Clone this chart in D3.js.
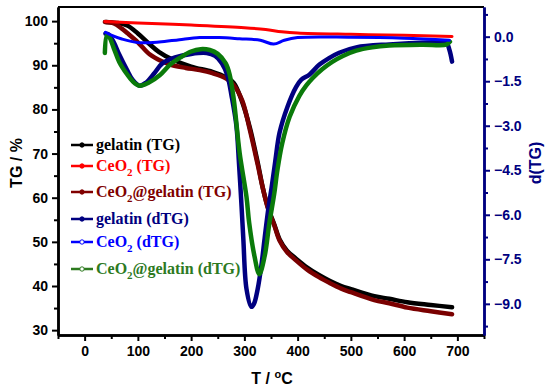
<!DOCTYPE html>
<html>
<head>
<meta charset="utf-8">
<script src="https://cdn.jsdelivr.net/npm/d3@7"></script>
<style>
  body { margin: 0; background: #fff; }
  svg { display: block; }
  .tick text { font-family: "Liberation Sans", Arial, sans-serif; font-weight: bold; font-size: 14px; }
</style>
</head>
<body>
<div class="mydiv"></div>
<script>
var width = 550;
var height = 389;

// series: [temperature, value]
var gelatinTG = [[40,99.8],[60,99.6],[80,99.0],[100,97.2],[120,95.0],[140,93.0],[165,91.3],[200,89.7],[240,88.5],[265,87.3],[280,86.0],[295,82.0],[310,76.0],[325,68.0],[335,62.0],[345,57.5],[356,54.0],[366,50.6],[380,48.0],[397,46.2],[418,44.2],[440,42.5],[460,41.2],[482,40.0],[500,39.3],[544,37.7],[572,37.1],[606,36.3],[650,35.7],[690,35.2]];
var ceo2TG = [[38,99.9],[100,99.6],[200,99.1],[300,98.5],[340,98.1],[370,97.6],[400,97.3],[500,97.0],[600,96.8],[690,96.5]];
var ceo2GelTG = [[38,99.8],[55,99.5],[70,98.3],[80,97.3],[100,95.2],[122,92.5],[145,90.9],[165,90.0],[190,89.4],[216,88.9],[240,88.2],[266,87.0],[280,85.5],[296,82.0],[310,75.5],[325,67.5],[335,62.0],[345,57.3],[356,53.8],[366,50.3],[380,47.7],[397,45.8],[418,43.7],[440,42.0],[460,40.7],[482,39.4],[500,38.6],[544,36.8],[572,36.1],[606,35.1],[650,34.3],[690,33.6]];
var gelatinDTG = [[39,0.1],[45,0.08],[55,-0.2],[65,-0.6],[79,-1.1],[90,-1.45],[103,-1.65],[115,-1.55],[130,-1.25],[146,-0.9],[170,-0.7],[200,-0.58],[229,-0.55],[245,-0.65],[258,-0.9],[268,-1.3],[276,-2.0],[285,-3.0],[290,-4.3],[294,-5.5],[298,-6.8],[304,-8.5],[313,-9.1],[318,-9.0],[325,-8.5],[332,-7.7],[338,-6.8],[345,-5.8],[351,-5.1],[358,-4.2],[366,-3.24],[381,-2.36],[397,-1.7],[407,-1.45],[422,-1.28],[441,-0.94],[459,-0.72],[478,-0.54],[510,-0.36],[572,-0.26],[647,-0.2],[679,-0.2],[685,-0.44],[690,-0.84]];
var ceo2DTG = [[39,0.15],[50,0.05],[70,-0.08],[100,-0.2],[140,-0.18],[178,-0.1],[216,-0.03],[253,-0.03],[291,-0.07],[330,-0.12],[355,-0.25],[375,-0.12],[400,-0.03],[500,-0.02],[600,-0.05],[685,-0.12]];
var ceo2GelDTG = [[38,-0.55],[42,0.05],[46,0.0],[55,-0.4],[65,-0.85],[79,-1.25],[90,-1.5],[103,-1.65],[120,-1.55],[141,-1.3],[160,-0.95],[180,-0.7],[200,-0.5],[218,-0.42],[235,-0.45],[250,-0.58],[265,-0.9],[272,-1.25],[280,-2.1],[291,-3.9],[304,-5.4],[309,-6.27],[319,-7.4],[328,-8.0],[338,-7.4],[347,-6.27],[356,-5.3],[362,-4.5],[371,-3.6],[385,-2.7],[403,-2.0],[416,-1.65],[428,-1.4],[446,-1.1],[465,-0.85],[485,-0.65],[510,-0.47],[540,-0.36],[572,-0.3],[634,-0.27],[679,-0.27],[686,-0.17]];

var xTicks = [0,100,200,300,400,500,600,700];
var yLeftTicks = [30,40,50,60,70,80,90,100];
var yRightTicks = [0,-1.5,-3.0,-4.5,-6.0,-7.5,-9.0];

var legendNames = ["gelatin (TG)", "CeO|2| (TG)", "CeO|2|@gelatin (TG)", "gelatin (dTG)", "CeO|2| (dTG)", "CeO|2|@gelatin (dTG)"];
var legendColors = ["#000000", "#ff0000", "#800000", "#000080", "#0000ff", "#2d7a1f"];

var margin = { left: 58, right: 484, top: 7, bottom: 335 };

var x = d3.scaleLinear().domain([-50, 750]).range([margin.left, margin.right]);
var yL = d3.scaleLinear().domain([28.9, 103.2]).range([margin.bottom, margin.top]);
var yR = d3.scaleLinear().domain([-10.05, 1.0]).range([margin.bottom, margin.top]);

var svg = d3.select(".mydiv")
	.append("svg")
	.attr("width", width)
	.attr("height", height);

svg.append("rect").attr("width", width).attr("height", height).attr("fill", "#fff");

var lineL = d3.line()
	.x(function(d) { return x(d[0]); })
	.y(function(d) { return yL(d[1]); })
	.curve(d3.curveCatmullRom.alpha(0.5));
var lineR = d3.line()
	.x(function(d) { return x(d[0]); })
	.y(function(d) { return yR(d[1]); })
	.curve(d3.curveCatmullRom.alpha(0.5));

// curves, drawing order matters for overlaps
var curves = [
	{ data: gelatinTG, line: lineL, color: "#000000", w: 4.5 },
	{ data: ceo2GelTG, line: lineL, color: "#7a0000", w: 4.5 },
	{ data: ceo2TG, line: lineL, color: "#ff0000", w: 3 },
	{ data: gelatinDTG, line: lineR, color: "#000080", w: 4.5 },
	{ data: ceo2GelDTG, line: lineR, color: "#0a7a0a", w: 4.5 },
	{ data: ceo2DTG, line: lineR, color: "#0000ff", w: 3 }
];
curves.forEach(function(c) {
	svg.append("path")
		.attr("d", c.line(c.data))
		.attr("fill", "none")
		.attr("stroke", c.color)
		.attr("stroke-width", c.w)
		.attr("stroke-linejoin", "round")
		.attr("stroke-linecap", "round");
});

// frame top
svg.append("line")
	.attr("x1", margin.left).attr("x2", margin.right)
	.attr("y1", margin.top).attr("y2", margin.top)
	.attr("stroke", "#000").attr("stroke-width", 2);

// bottom axis
svg.append("g").attr("transform", "translate(0," + margin.bottom + ")")
	.call(d3.axisBottom(x).tickValues(xTicks).tickSize(6).tickSizeOuter(0).tickPadding(5));
svg.append("g").attr("transform", "translate(0," + margin.bottom + ")")
	.call(d3.axisBottom(x).tickValues(d3.range(-50, 751, 100)).tickSize(4).tickSizeOuter(0).tickFormat(""));

// left axis
svg.append("g").attr("transform", "translate(" + margin.left + ",0)")
	.call(d3.axisLeft(yL).tickValues(yLeftTicks).tickSize(6).tickSizeOuter(0).tickPadding(4));
svg.append("g").attr("transform", "translate(" + margin.left + ",0)")
	.call(d3.axisLeft(yL).tickValues(d3.range(35, 100, 10)).tickSize(4).tickSizeOuter(0).tickFormat(""));

// right axis
var rAx = svg.append("g").attr("transform", "translate(" + margin.right + ",0)")
	.call(d3.axisRight(yR).tickValues(yRightTicks).tickSize(6).tickSizeOuter(0).tickPadding(4).tickFormat(d3.format(".1f")));
var rMinor = svg.append("g").attr("transform", "translate(" + margin.right + ",0)")
	.call(d3.axisRight(yR).tickValues([0.75,-0.75,-2.25,-3.75,-5.25,-6.75,-8.25,-9.75]).tickSize(4).tickSizeOuter(0).tickFormat(""));

svg.selectAll(".domain").attr("stroke-width", 2.5);
svg.selectAll(".tick line").attr("stroke-width", 2);
svg.selectAll(".tick text").attr("fill", "#000");
[rAx, rMinor].forEach(function(g) {
	g.selectAll(".domain, .tick line").attr("stroke", "#000080");
	g.selectAll(".tick text").attr("fill", "#000080");
});

// axis titles
svg.append("text")
	.attr("transform", "translate(22,163) rotate(-90)")
	.attr("text-anchor", "middle")
	.style("font-family", "Liberation Sans, Arial, sans-serif")
	.style("font-weight", "bold").style("font-size", "16px")
	.text("TG / %");
svg.append("text")
	.attr("transform", "translate(541,163) rotate(-90)")
	.attr("text-anchor", "middle")
	.style("font-family", "Liberation Sans, Arial, sans-serif")
	.style("font-weight", "bold").style("font-size", "16px")
	.attr("fill", "#000080")
	.text("d(TG)");
var xt = svg.append("text")
	.attr("x", 272).attr("y", 384)
	.attr("text-anchor", "middle")
	.style("font-family", "Liberation Sans, Arial, sans-serif")
	.style("font-weight", "bold").style("font-size", "16px");
xt.append("tspan").text("T / ");
xt.append("tspan").attr("dy", -6).style("font-size", "11px").text("o");
xt.append("tspan").attr("dy", 6).text("C");

// legend
var legendLineY = [145, 166, 192, 219, 242, 269];
var legendOpen = [false, false, false, false, true, true];
legendNames.forEach(function(name, i) {
	var yy = legendLineY[i];
	svg.append("line")
		.attr("x1", 71).attr("x2", 93).attr("y1", yy).attr("y2", yy)
		.attr("stroke", legendColors[i]).attr("stroke-width", 2.5);
	svg.append("circle")
		.attr("cx", 82).attr("cy", yy).attr("r", 2.2)
		.attr("fill", legendOpen[i] ? "#fff" : legendColors[i])
		.attr("stroke", legendColors[i]).attr("stroke-width", 1);
	var t = svg.append("text")
		.attr("x", 96).attr("y", yy + 5)
		.attr("fill", legendColors[i])
		.style("font-family", "Liberation Serif, Times New Roman, serif")
		.style("font-weight", "bold").style("font-size", "16px");
	name.split("|").forEach(function(part, k) {
		if (k === 1) {
			t.append("tspan").attr("dy", 5).style("font-size", "11px").text(part);
		} else if (k === 2) {
			t.append("tspan").attr("dy", -5).text(part);
		} else {
			t.append("tspan").text(part);
		}
	});
});
</script>
</body>
</html>
